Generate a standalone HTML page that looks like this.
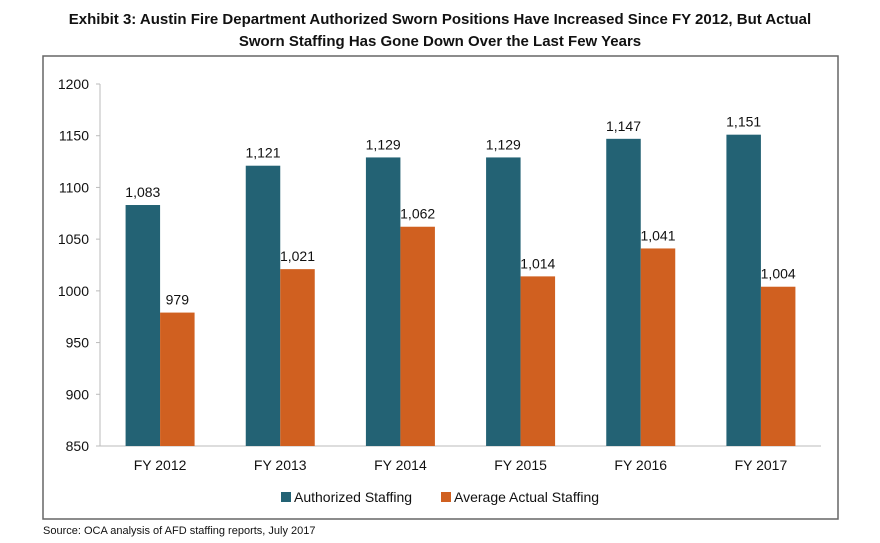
<!DOCTYPE html>
<html><head><meta charset="utf-8">
<style>
body{margin:0;background:#fff;}
svg{display:block;font-family:"Liberation Sans",sans-serif;}
</style></head>
<body>
<svg id="chart" width="880" height="543">
<text x="440" y="24" text-anchor="middle" font-size="15" font-weight="bold" fill="#111">Exhibit 3: Austin Fire Department Authorized Sworn Positions Have Increased Since FY 2012, But Actual</text>
<text x="440" y="46" text-anchor="middle" font-size="15" font-weight="bold" fill="#111">Sworn Staffing Has Gone Down Over the Last Few Years</text>
<rect x="43" y="56" width="795" height="463" fill="none" stroke="#666" stroke-width="1.5"/>
<g id="axes"></g>
<g id="bars"></g>
<g>
<rect x="281" y="492" width="10" height="10" fill="#236274"/>
<text x="294" y="502" font-size="14" fill="#111">Authorized Staffing</text>
<rect x="441" y="492" width="10" height="10" fill="#d06020"/>
<text x="454" y="502" font-size="14" fill="#111">Average Actual Staffing</text>
</g>
<text x="43" y="534" font-size="11" fill="#111">Source: OCA analysis of AFD staffing reports, July 2017</text>
</svg>
<script>
const categories = ["FY 2012","FY 2013","FY 2014","FY 2015","FY 2016","FY 2017"];
const authorized = [1083,1121,1129,1129,1147,1151];
const actual = [979,1021,1062,1014,1041,1004];
const yTicks = [850,900,950,1000,1050,1100,1150,1200];

const NS="http://www.w3.org/2000/svg";
const x0=100,x1=821,yMin=850,yMax=1200,py0=446,py1=84;
const y=v=>py0-(v-yMin)/(yMax-yMin)*(py0-py1);
const band=(x1-x0)/categories.length;
const cx=i=>x0+band*(i+0.5);
const bw=34.5;
function mk(tag,attrs,parent,text){const e=document.createElementNS(NS,tag);for(const k in attrs)e.setAttribute(k,attrs[k]);if(text!==undefined)e.textContent=text;parent.appendChild(e);return e;}
const axes=document.getElementById('axes'),bars=document.getElementById('bars');
let l=mk('line',{x1:x0,y1:py1,x2:x0,y2:py0,stroke:'#bbb'},axes);


yTicks.forEach(t=>{
 const tk=mk('line',{x1:x0-4,y1:y(t),x2:x0,y2:y(t),stroke:'#bbb'},axes);
 
 
 const tx=mk('text',{x:89,y:y(t)+5,'text-anchor':'end','font-size':14,fill:'#111'},axes,String(t));
 
 
});
const xa=mk('line',{x1:x0,y1:py0,x2:x1,y2:py0,stroke:'#bbb'},axes);


const fmt=v=>v.toLocaleString('en-US');
categories.forEach((c,i)=>{
 const lab=mk('text',{x:cx(i),y:470,'text-anchor':'middle','font-size':14,fill:'#111'},axes,c);
 
 
 [[authorized,'#236274',-bw,'authorized'],[actual,'#d06020',0,'actual']].forEach(([arr,col,off,nm])=>{
  const v=arr[i];
  const r=mk('rect',{x:cx(i)+off,y:y(v),width:bw,height:py0-y(v),fill:col},bars);
  
  
  const t=mk('text',{x:cx(i)+off+bw/2,y:y(v)-8,'text-anchor':'middle','font-size':14,fill:'#111'},bars,fmt(v));
  
  
 });
});
</script>
</body></html>
